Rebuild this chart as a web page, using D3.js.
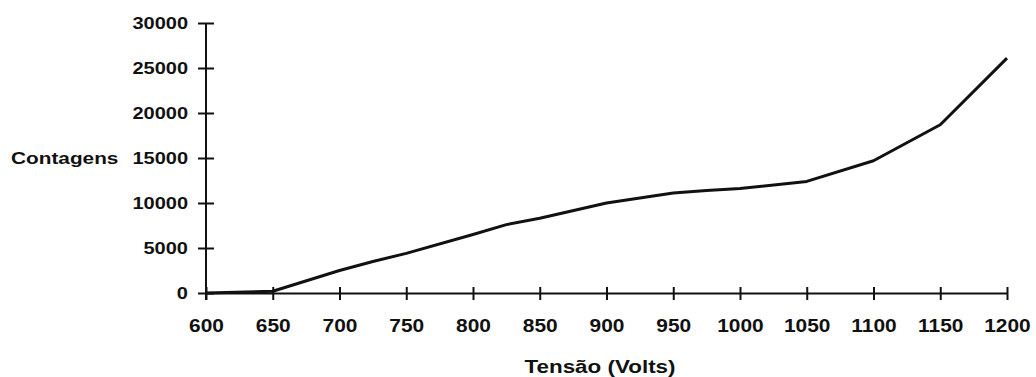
<!DOCTYPE html>
<html>
<head>
<meta charset="utf-8">
<script src="https://cdn.jsdelivr.net/npm/d3@7"></script>
<style>
  body { margin: 0; background: #fff; }
  text { font-family: "Liberation Sans", Arial, sans-serif; font-weight: bold; fill: #111; }
  .axis path, .axis line { stroke: #111; stroke-width: 2; }
</style>
</head>
<body>
<svg id="main_chart" width="1036" height="377"></svg>
<script>
// TENSION (V) AND COUNTS
const tensao = [600, 650, 700, 725, 750, 800, 825, 850, 900, 950, 975, 1000, 1050, 1100, 1150, 1200];
const contagens = [0, 200, 2500, 3500, 4400, 6500, 7600, 8300, 10000, 11100, 11400, 11600, 12400, 14700, 18700, 26100];
const x_ticks = [600, 650, 700, 750, 800, 850, 900, 950, 1000, 1050, 1100, 1150, 1200];
const y_ticks = [0, 5000, 10000, 15000, 20000, 25000, 30000];

const svg = d3.select('#main_chart');

// SCALES
const xScale = d3.scaleLinear().domain([600, 1200]).range([206, 1007]);
const yScale = d3.scaleLinear().domain([0, 30000]).range([293, 23]);

// Y AXIS (TICKS CROSS THE LINE, WIDE TEXT)
const yAxis = svg.append('g').attr('class', 'axis')
  .attr('transform', 'translate(206,0)')
  .call(d3.axisLeft(yScale).tickValues(y_ticks).tickSize(8).tickSizeOuter(0).tickFormat(d3.format('d')));
yAxis.select('.domain').attr('d', `M0,${yScale(30000)}V${yScale(0) + 7}`);
yAxis.selectAll('.tick line').attr('x1', 8).attr('x2', -8);
yAxis.selectAll('.tick text')
  .attr('x', 0).attr('dy', '0.36em')
  .attr('transform', 'translate(-18,0) scale(1.25,1)')
  .style('font-size', '16px');

// X AXIS
const xAxis = svg.append('g').attr('class', 'axis')
  .attr('transform', `translate(0,${yScale(0)})`)
  .call(d3.axisBottom(xScale).tickValues(x_ticks).tickSize(7).tickSizeOuter(0).tickFormat(d3.format('d')));
xAxis.selectAll('.tick line').attr('y1', -6).attr('y2', 7);
xAxis.selectAll('.tick text')
  .attr('y', 0).attr('dy', '0.36em')
  .attr('transform', 'translate(0,32) scale(1.1,1)')
  .style('font-size', '19px');
svg.selectAll('.axis text').attr('fill', '#111');

// DATA LINE
const drawLine = d3.line()
  .x((d, i) => xScale(tensao[i]))
  .y(d => yScale(d));
svg.append('path')
  .attr('d', drawLine(contagens))
  .attr('fill', 'none')
  .attr('stroke', '#111')
  .attr('stroke-width', 3)
  .attr('stroke-linejoin', 'round');

// AXIS TITLES
svg.append('text')
  .attr('transform', `translate(11,${yScale(15000)}) scale(1.3,1)`)
  .attr('dy', '0.36em')
  .style('font-size', '16px').text('Contagens');
svg.append('text')
  .attr('transform', 'translate(600,366) scale(1.18,1)')
  .attr('dy', '0.36em')
  .attr('text-anchor', 'middle')
  .style('font-size', '19px').text('Tensão (Volts)');
</script>
</body>
</html>
